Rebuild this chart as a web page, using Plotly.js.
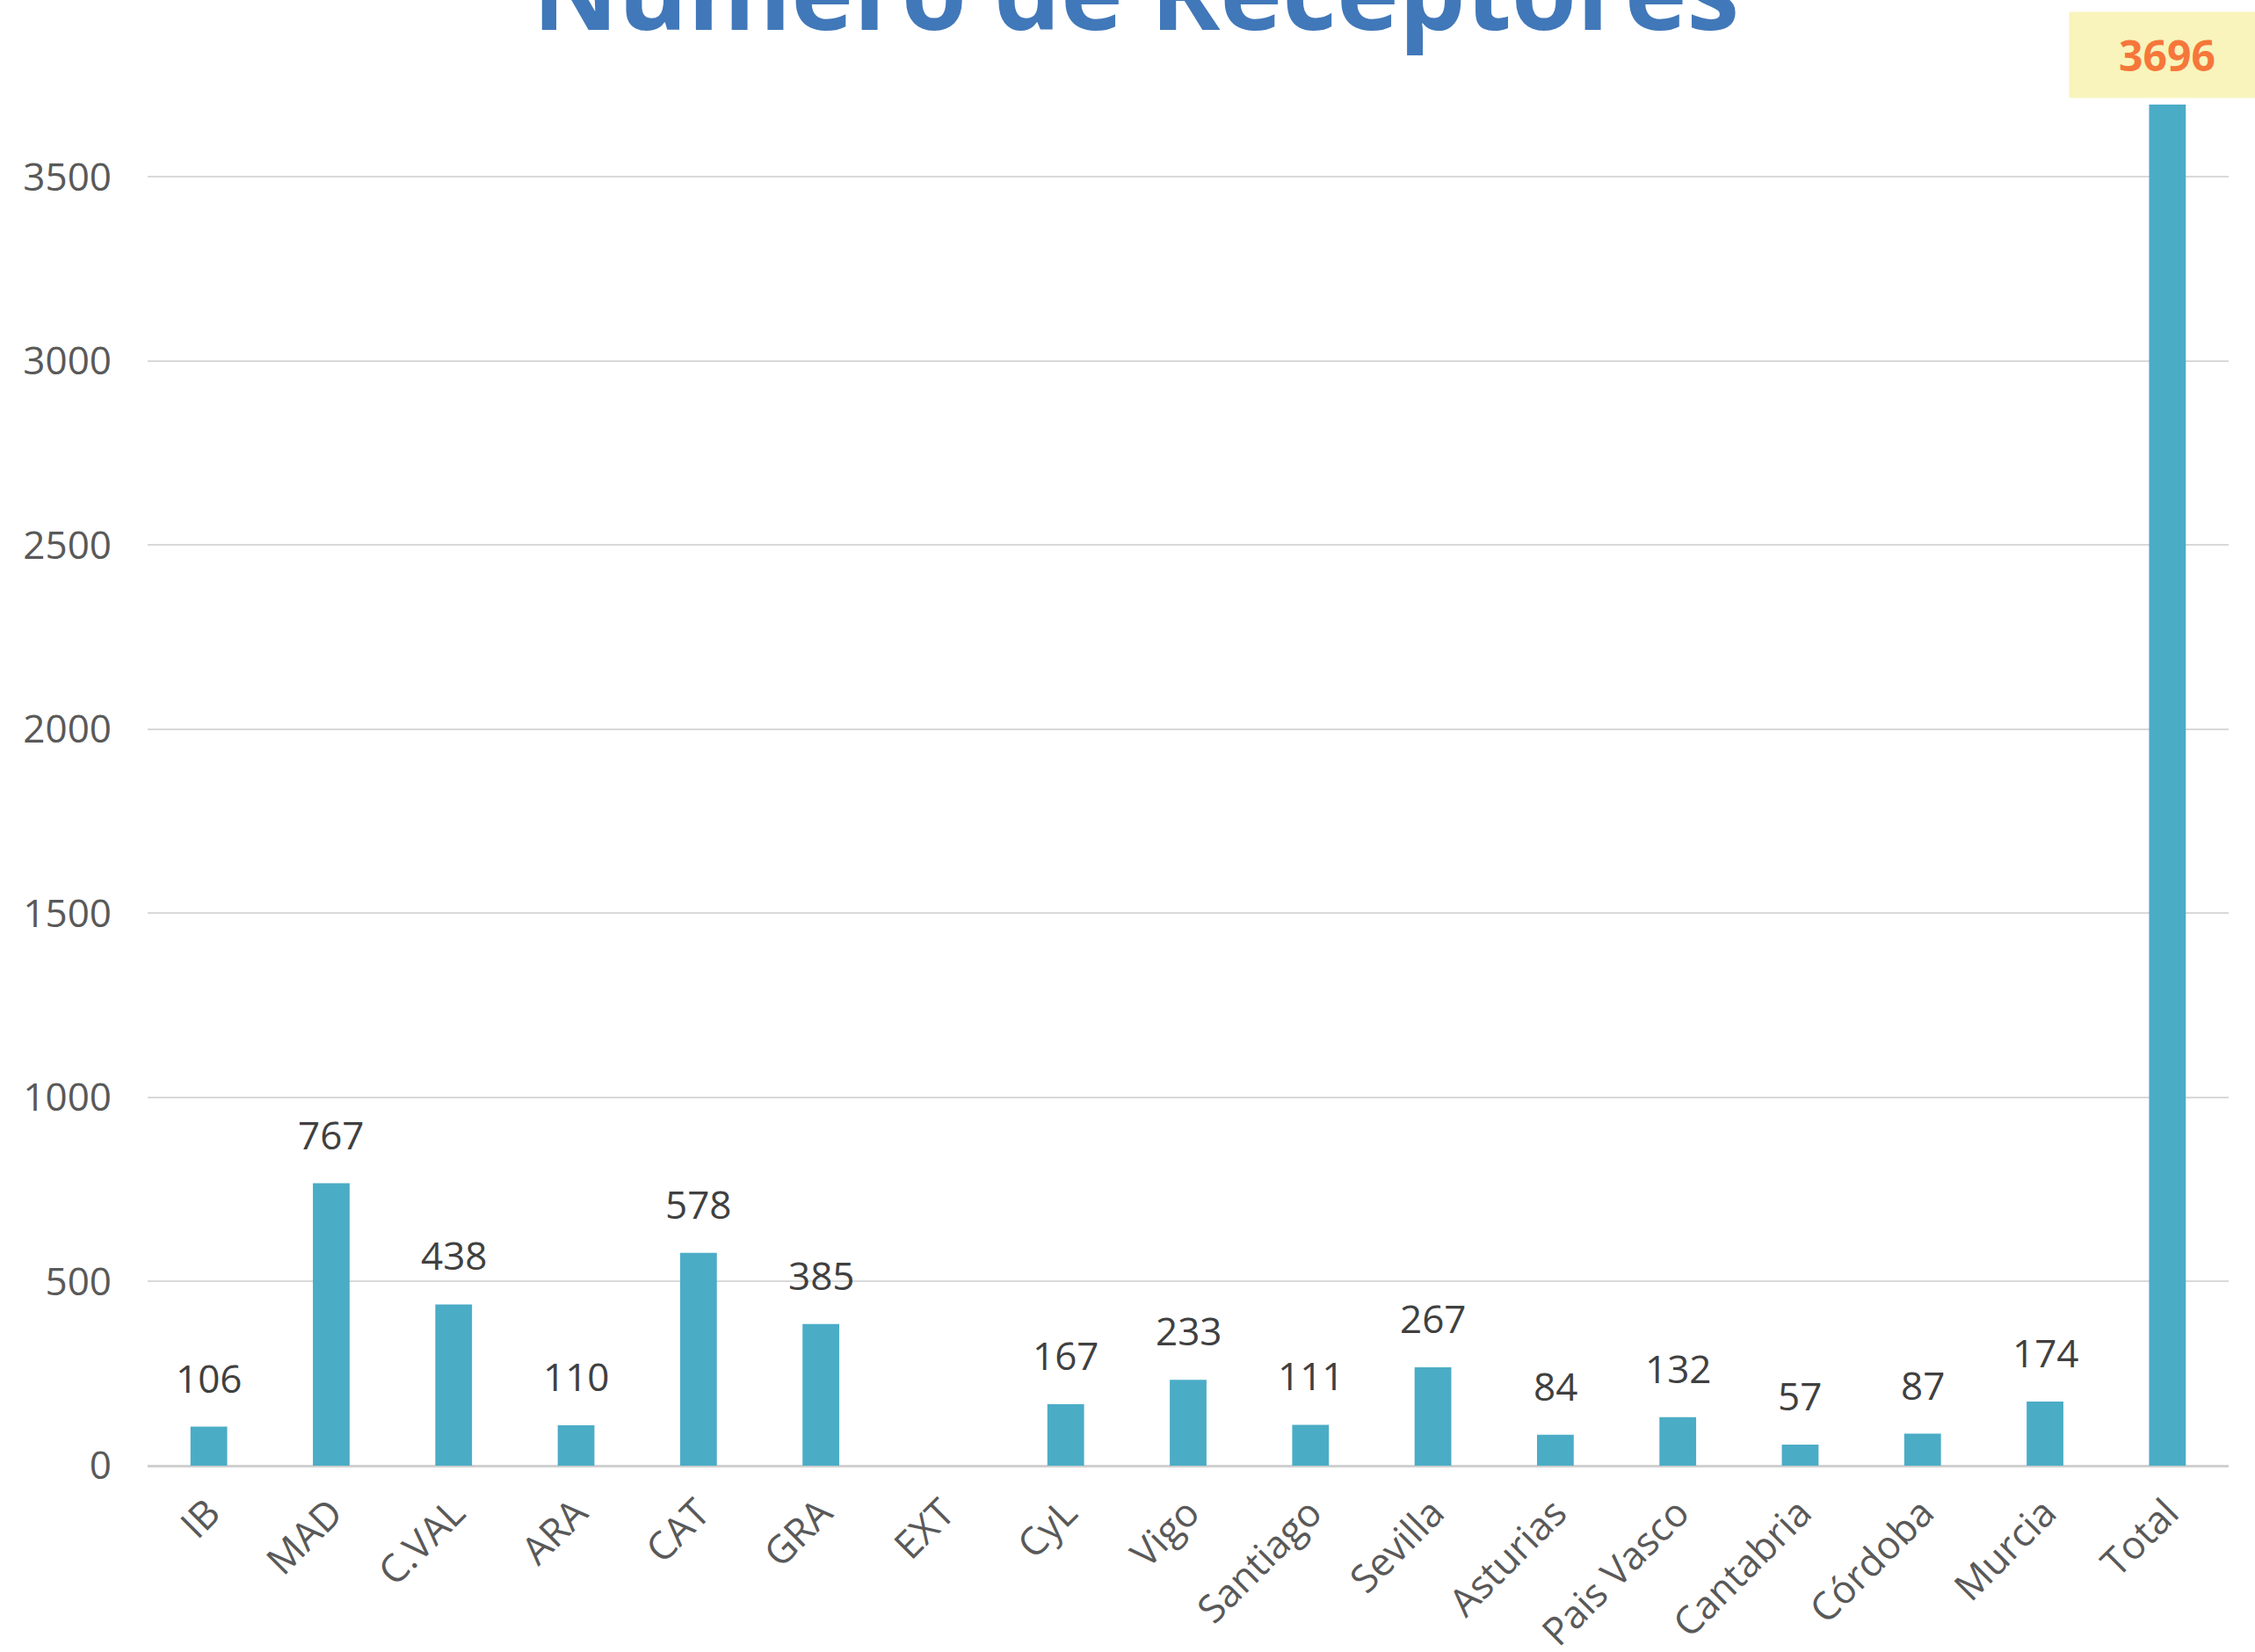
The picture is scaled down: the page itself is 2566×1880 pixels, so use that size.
<!DOCTYPE html>
<html>
<head>
<meta charset="utf-8">
<script src="https://cdn.plot.ly/plotly-3.0.1.min.js"></script>
<style>html,body{margin:0;padding:0;background:#fff;}#chart{width:2566px;height:1880px;}</style>
</head>
<body>
<div id="chart"></div>
<script>
const titleText = "Número de Receptores";
const categories = ["IB", "MAD", "C.VAL", "ARA", "CAT", "GRA", "EXT", "CyL", "Vigo", "Santiago", "Sevilla", "Asturias", "Pais Vasco", "Cantabria", "Córdoba", "Murcia", "Total"];
const values = [106, 767, 438, 110, 578, 385, null, 167, 233, 111, 267, 84, 132, 57, 87, 174, 3696];
const yTickValues = [0, 500, 1000, 1500, 2000, 2500, 3000, 3500];

const FONT = "Open Sans, Noto Sans, sans-serif";
const lastIdx = categories.length - 1;

const annotations = [];
categories.forEach((c, i) => {
  const v = values[i];
  if (v === null || v === undefined) return;
  if (i === lastIdx) {
    annotations.push({
      x: c, y: v, xref: "x", yref: "y",
      text: "<b>" + v + "</b>", showarrow: false,
      xanchor: "center", yanchor: "middle", yshift: 57,
      width: 220, height: 95, bgcolor: "#F8F4BC",
      font: {family: FONT, size: 48, color: "#F6773A"}
    });
  } else {
    annotations.push({
      x: c, y: v, xref: "x", yref: "y",
      text: String(v), showarrow: false,
      xanchor: "center", yanchor: "bottom", yshift: 24,
      font: {family: FONT, size: 44, color: "#404040"}
    });
  }
});
annotations.push({
  x: 0.475, y: 1, xref: "paper", yref: "paper",
  text: "<b>" + titleText + "</b>", showarrow: false,
  xanchor: "center", yanchor: "top", yshift: 96,
  font: {family: FONT, size: 120, color: "#4178B9"}
});

const trace = {
  type: "bar",
  x: categories,
  y: values,
  marker: {color: "#4BACC6"},
  hoverinfo: "x+y",
  cliponaxis: false
};

const layout = {
  width: 2566, height: 1880,
  margin: {l: 168, r: 30, t: 0, b: 212, pad: 0},
  paper_bgcolor: "#ffffff", plot_bgcolor: "#ffffff",
  bargap: 0.7,
  showlegend: false,
  xaxis: {
    type: "category",
    range: [-0.5, categories.length - 0.5],
    autorange: false,
    tickangle: -45,
    tickfont: {family: FONT, size: 44, color: "#595959"},
    ticks: "",
    ticklabelstandoff: 18,
    showgrid: false,
    showline: false,
    zeroline: false,
    fixedrange: true
  },
  yaxis: {
    range: [0, 3980],
    autorange: false,
    tickvals: yTickValues,
    tickfont: {family: FONT, size: 44, color: "#595959"},
    ticks: "",
    ticklabelstandoff: 40,
    showgrid: true,
    gridcolor: "#D9D9D9",
    gridwidth: 2,
    zeroline: true,
    zerolinecolor: "#D0D0D0",
    zerolinewidth: 3,
    showline: false,
    fixedrange: true
  },
  annotations: annotations
};

Plotly.newPlot("chart", [trace], layout, {staticPlot: true, displayModeBar: false});
</script>
</body>
</html>
